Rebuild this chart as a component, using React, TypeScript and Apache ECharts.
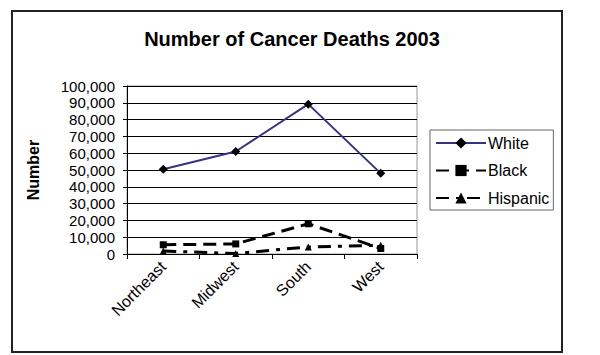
import React, { useEffect, useRef } from "react";
import * as echarts from "echarts";

const categories = ["Northeast", "Midwest", "South", "West"];
const whiteDeaths = [50500, 61000, 89200, 48000];
const blackDeaths = [5500, 6000, 18000, 3300];
const hispanicDeaths = [1800, 300, 4200, 5200];
const titleText = "Number of Cancer Deaths 2003";
const yAxisName = "Number";

export default function App() {
  const ref = useRef<HTMLDivElement>(null);
  useEffect(() => {
    if (!ref.current) return;
    const chart = echarts.init(ref.current, null, { renderer: "svg" });
    const font = "Arial, 'Liberation Sans', sans-serif";
    chart.setOption({
      animation: false,
      backgroundColor: "#ffffff",
      textStyle: { fontFamily: font },
      title: {
        text: titleText,
        left: 287,
        textAlign: "center",
        top: 24,
        textStyle: { fontFamily: font, fontSize: 20, fontWeight: "bold", color: "#000" },
      },
      graphic: [
        {
          type: "rect",
          shape: { x: 12, y: 11, width: 550, height: 341 },
          style: { fill: "none", stroke: "#222", lineWidth: 2 },
          silent: true,
        },
      ],
      legend: {
        orient: "vertical",
        left: 430,
        top: 130,
        width: 127,
        padding: [5, 4, 4, 5],
        itemWidth: 50,
        itemHeight: 14,
        itemGap: 11.5,
        borderColor: "#666",
        borderWidth: 1,
        textStyle: { fontFamily: font, fontSize: 16, color: "#000", padding: [0, 0, 0, -3] },
        data: ["White", "Black", "Hispanic"],
      },
      grid: {
        left: 127,
        right: 183,
        top: 86,
        bottom: 101,
        show: true,
        borderColor: "#999",
        borderWidth: 1,
      },
      xAxis: {
        type: "category",
        data: categories,
        boundaryGap: true,
        axisLine: { lineStyle: { color: "#000", width: 1 } },
        axisTick: { show: true, length: 5, lineStyle: { color: "#000" } },
        axisLabel: { rotate: 45, fontSize: 16, color: "#000", margin: 10, fontFamily: font },
      },
      yAxis: {
        type: "value",
        min: 0,
        max: 100000,
        interval: 10000,
        name: yAxisName,
        nameLocation: "middle",
        nameRotate: 90,
        nameGap: 86,
        nameTextStyle: { fontFamily: font, fontSize: 16, fontWeight: "bold", color: "#000" },
        axisLine: { show: true, lineStyle: { color: "#000", width: 1 } },
        axisTick: { show: true, length: 4, lineStyle: { color: "#000" } },
        splitLine: { show: true, lineStyle: { color: "#000", width: 1 } },
        axisLabel: {
          fontSize: 15,
          color: "#000",
          margin: 12,
          fontFamily: font,
          formatter: (v: number) => v.toLocaleString("en-US"),
        },
      },
      series: [
        {
          name: "White",
          type: "line",
          data: whiteDeaths,
          symbol: "diamond",
          symbolSize: 9,
          lineStyle: { color: "#333380", width: 2 },
          itemStyle: { color: "#000" },
          z: 5,
        },
        {
          name: "Black",
          type: "line",
          data: blackDeaths,
          symbol: "rect",
          symbolSize: 7,
          lineStyle: { color: "#000", width: 3, type: [13, 7] },
          itemStyle: { color: "#000" },
          z: 4,
        },
        {
          name: "Hispanic",
          type: "line",
          data: hispanicDeaths,
          symbol: "triangle",
          symbolSize: 7,
          lineStyle: { color: "#000", width: 3, type: [13, 7, 4, 7] },
          itemStyle: { color: "#000" },
          z: 4,
        },
      ],
    });
    return () => chart.dispose();
  }, []);
  return (
    <div
      ref={ref}
      style={{ position: "absolute", left: 0, top: 0, width: 600, height: 355 }}
    />
  );
}
